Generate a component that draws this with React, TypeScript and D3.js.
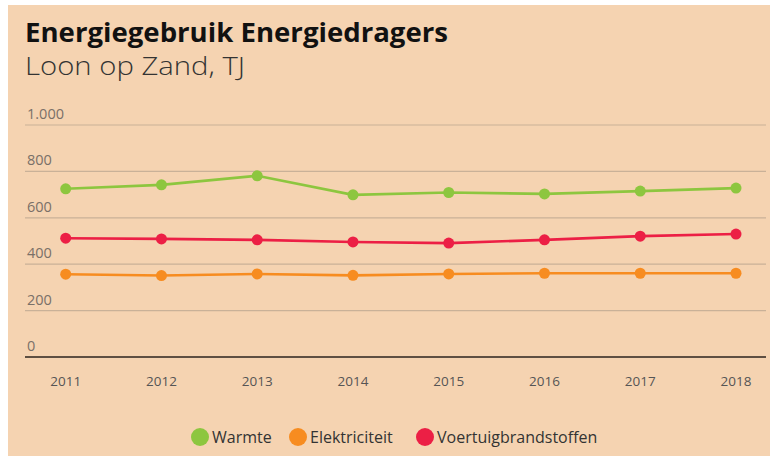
import React from "react";
import * as d3 from "d3";

const years = ["2011", "2012", "2013", "2014", "2015", "2016", "2017", "2018"];
const warmte = [725, 742, 781, 699, 709, 703, 715, 728];
const elektriciteit = [357, 351, 358, 352, 358, 361, 361, 361];
const voertuig = [512, 509, 505, 496, 491, 505, 521, 530];
const yTicks = [0, 200, 400, 600, 800, 1000];
const seriesNames = ["Warmte", "Elektriciteit", "Voertuigbrandstoffen"];
const seriesColors = ["#8dc63f", "#f78c20", "#ec1f45"];

const W = 770;
const H = 456;

export default function App() {
  const x = d3.scalePoint<string>().domain(years).range([65.7, 736]);
  const y = d3.scaleLinear().domain([0, 1000]).range([357, 125]);
  const fmt = (v: number) => d3.format(",")(v).replace(/,/g, ".");
  const line = d3
    .line<number>()
    .x((_, i) => x(years[i]) as number)
    .y((d) => y(d));
  const series = [warmte, elektriciteit, voertuig];
  const legendX = [200, 298, 425];
  const font = "'Open Sans', sans-serif";

  return (
    <svg
      width={W}
      height={H}
      style={{ position: "absolute", left: 0, top: 0, display: "block" }}
    >
      <rect x={0} y={0} width={W} height={H} fill="#ffffff" />
      <rect x={8} y={5} width={W - 8} height={H - 5} fill="#f5d3b1" />
      <text x={25} y={42} fontFamily={font} fontWeight={700} fontSize={27.5} fill="#111"
        textLength={423} lengthAdjust="spacingAndGlyphs">
        Energiegebruik Energiedragers
      </text>
      <text x={25} y={75} fontFamily={font} fontWeight={300} fontSize={26} fill="#333"
        textLength={220} lengthAdjust="spacingAndGlyphs">
        Loon op Zand, TJ
      </text>
      {yTicks.map((t) =>
        t === 0 ? null : (
          <line key={"g" + t} x1={25} x2={766} y1={y(t)} y2={y(t)} stroke="#c9b198" strokeWidth={1.2} />
        )
      )}
      <line x1={25} x2={766} y1={y(0)} y2={y(0)} stroke="#5e4f42" strokeWidth={2.2} />
      {yTicks.map((t) => (
        <text key={"l" + t} x={27} y={y(t) - 6} fontFamily={font} fontSize={14.5} fill="#7a7068">
          {fmt(t)}
        </text>
      ))}
      {years.map((yr) => (
        <text
          key={yr}
          x={x(yr)}
          y={386}
          textAnchor="middle"
          fontFamily={font}
          fontSize={13.5}
          fill="#555"
        >
          {yr}
        </text>
      ))}
      {series.map((s, si) => (
        <g key={si}>
          <path d={line(s) as string} fill="none" stroke={seriesColors[si]} strokeWidth={2.6} />
          {s.map((v, i) => (
            <circle key={i} cx={x(years[i])} cy={y(v)} r={5.5} fill={seriesColors[si]} />
          ))}
        </g>
      ))}
      {seriesNames.map((n, i) => (
        <g key={n}>
          <circle cx={legendX[i]} cy={437} r={9} fill={seriesColors[i]} />
          <text x={legendX[i] + 12} y={442.5} fontFamily={font} fontSize={16} fill="#333">
            {n}
          </text>
        </g>
      ))}
    </svg>
  );
}
